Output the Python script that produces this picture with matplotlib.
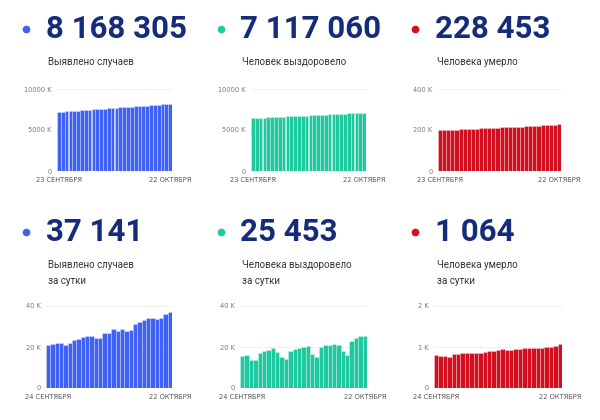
import matplotlib
matplotlib.use('Agg')
import matplotlib.pyplot as plt
from matplotlib.lines import Line2D

# cumulative totals, thousands (23 Sep - 22 Oct)
cases_total = [7200, 7235, 7268, 7300, 7335, 7370, 7405, 7440, 7475, 7510,
               7545, 7578, 7612, 7645, 7680, 7712, 7745, 7780, 7815, 7848,
               7880, 7915, 7950, 7985, 8020, 8055, 8090, 8120, 8142, 8168]
recovered_total = [6450, 6472, 6494, 6516, 6538, 6560, 6582, 6604, 6627, 6650,
                   6673, 6696, 6719, 6742, 6765, 6788, 6811, 6834, 6857, 6880,
                   6903, 6926, 6949, 6972, 6995, 7018, 7041, 7064, 7090, 7117]
deaths_total = [198.0, 199.0, 200.0, 201.0, 202.0, 203.0, 204.0, 205.0, 206.0, 207.0,
                208.0, 209.0, 209.8, 210.7, 211.6, 212.5, 213.4, 214.3, 215.2, 216.1,
                217.0, 218.0, 219.0, 220.0, 221.0, 222.0, 223.0, 225.0, 226.5, 228.5]

# daily values, thousands (24 Sep - 22 Oct)
cases_daily = [21, 21.5, 22, 22, 21, 22, 23.5, 24, 25, 25.5,
               25.5, 24.5, 24.5, 27, 26.8, 29, 28, 29, 27.8, 28.2,
               31, 32, 33, 34, 34, 33.5, 34, 36, 37.1]
recovered_daily = [15.5, 16, 13.5, 13.5, 17, 18, 18.5, 19.5, 17.5, 15,
                   14, 18, 19, 19.5, 20, 20.5, 16.5, 15, 20, 21,
                   21, 21.5, 21, 18, 16, 23, 24.5, 25.5, 25.4]
deaths_daily = [0.80, 0.79, 0.78, 0.75, 0.83, 0.84, 0.85, 0.86, 0.86, 0.86,
                0.85, 0.88, 0.90, 0.90, 0.92, 0.94, 0.93, 0.93, 0.95, 0.96,
                0.97, 0.98, 0.98, 0.97, 0.98, 1.00, 1.01, 1.02, 1.064]

big_numbers = ['8 168 305', '7 117 060', '228 453', '37 141', '25 453', '1 064']
subtitles = ['Выявлено случаев', 'Человек выздоровело', 'Человека умерло',
             'Выявлено случаев\nза сутки', 'Человека выздоровело\nза сутки',
             'Человека умерло\nза сутки']

BLUE = '#3f62f5'
TEAL = '#1fc9a0'
RED = '#d20f1f'
NAVY = '#152c7a'

W, H = 600, 420
fig = plt.figure(figsize=(6, 4.2), dpi=100)
fig.patch.set_facecolor('white')


def px(x, y):
    return x / W, 1 - y / H


def header(dot_x, num_x, num_y, sub_y, color, number, sub):
    fig.add_artist(Line2D([dot_x / W], [1 - num_y / H], marker='o', markersize=4.5,
                          color=color, transform=fig.transFigure))
    fig.text(*px(num_x, num_y), number, fontsize=22.5, fontweight='bold',
             family='Roboto', color=NAVY, va='center', ha='left')
    fig.text(*px(num_x + 2, sub_y), sub, fontsize=7, family='Roboto',
             color='#333333', va='top', ha='left', linespacing=1.75)


def bars(x0, x1, y0, y1, values, ymax, yticks, ylabels, color, xlabels):
    ax = fig.add_axes([x0 / W, 1 - y1 / H, (x1 - x0) / W, (y1 - y0) / H])
    n = len(values)
    ax.bar(range(n), values, width=1.0, color=color, zorder=2,
           edgecolor=(1, 1, 1, 0.45), linewidth=0.45)
    ax.set_xlim(-0.5, n - 0.5)
    ax.set_ylim(0, ymax)
    ax.set_yticks(yticks)
    ax.set_yticklabels(ylabels, fontsize=4.8, color='#777777')
    ax.set_xticks([0, n - 1])
    ax.set_xticklabels(xlabels, fontsize=4.8, color='#555555')
    ax.tick_params(length=0, pad=4)
    ax.grid(axis='y', color='#eeeeee', linewidth=0.6, zorder=0)
    for s in ax.spines.values():
        s.set_visible(False)
    return ax


top = ['23 СЕНТЯБРЯ', '22 ОКТЯБРЯ']
bot = ['24 СЕНТЯБРЯ', '22 ОКТЯБРЯ']

header(26, 46, 29, 57, BLUE, big_numbers[0], subtitles[0])
header(221, 240, 29, 57, TEAL, big_numbers[1], subtitles[1])
header(415, 435, 29, 57, RED, big_numbers[2], subtitles[2])
header(26, 46, 232, 260, BLUE, big_numbers[3], subtitles[3])
header(221, 240, 232, 260, TEAL, big_numbers[4], subtitles[4])
header(415, 435, 232, 260, RED, big_numbers[5], subtitles[5])

bars(57, 172, 89, 171, cases_total, 10000, [0, 5000, 10000],
     ['0', '5000 K', '10000 K'], BLUE, top)
bars(251, 366, 89, 171, recovered_total, 10000, [0, 5000, 10000],
     ['0', '5000 K', '10000 K'], TEAL, top)
bars(438, 561, 89, 171, deaths_total, 400, [0, 200, 400],
     ['0', '200 K', '400 K'], RED, top)
bars(46, 172, 306, 388, cases_daily, 40, [0, 20, 40],
     ['0', '20 K', '40 K'], BLUE, bot)
bars(240, 367, 306, 388, recovered_daily, 40, [0, 20, 40],
     ['0', '20 K', '40 K'], TEAL, bot)
bars(434, 562, 306, 388, deaths_daily, 2, [0, 1, 2],
     ['0', '1 K', '2 K'], RED, bot)

fig.savefig('out.png', dpi=100)
